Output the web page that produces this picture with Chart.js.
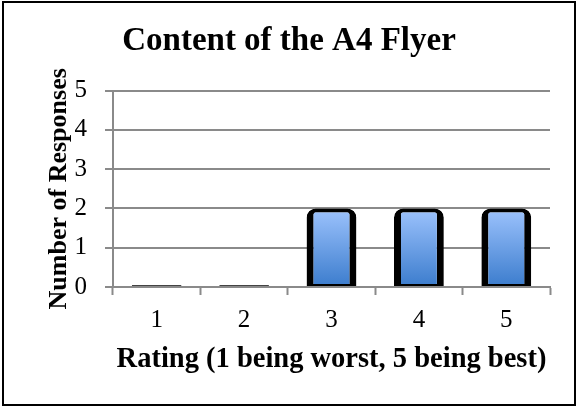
<!DOCTYPE html>
<html>
<head>
<meta charset="utf-8">
<script src="https://cdn.jsdelivr.net/npm/chart.js@4/dist/chart.umd.min.js"></script>
<style>
  html, body { margin: 0; padding: 0; background: #fff; }
  #wrap { position: relative; width: 578px; height: 409px; }
  #frame {
    position: absolute; left: 2px; top: 1px; width: 574px; height: 405px;
    border: 2px solid #000; box-sizing: border-box; pointer-events: none;
  }
</style>
</head>
<body>
<div id="wrap">
  <canvas id="chart" width="578" height="409"></canvas>
  <div id="frame"></div>
</div>
<script>
const categories = ['1', '2', '3', '4', '5'];
const responses = [0, 0, 2, 2, 2];
const yTicks = [0, 1, 2, 3, 4, 5];

const chartTitle = 'Content of the A4 Flyer';
const xTitle = 'Rating (1 being worst, 5 being best)';
const yTitle = 'Number of Responses';

const serif = "'Liberation Serif', 'DejaVu Serif', serif";
const gridGray = '#8a8a8a';

function barFill(c) {
    const chart = c.chart;
    if (!chart.chartArea) return '#6fa0e6';
    const y = chart.scales.y;
    const top = y.getPixelForValue(2);
    const bottom = y.getPixelForValue(0);
    const g = chart.ctx.createLinearGradient(0, top, 0, bottom);
    g.addColorStop(0, '#9dc3fd');
    g.addColorStop(1, '#3b7ccd');
    return g;
}

const ctx = document.getElementById('chart').getContext('2d');
new Chart(ctx, {
    type: 'bar',
    data: {
        labels: categories,
        datasets: [{
            data: responses,
            backgroundColor: barFill,
            borderColor: c => (c.raw === 0 ? '#444' : '#000'),
            borderWidth: { left: 7, right: 7, top: 4, bottom: 2 },
            borderSkipped: false,
            borderRadius: { topLeft: 9, topRight: 9, bottomLeft: 0, bottomRight: 0 },
            minBarLength: 2,
            barPercentage: 0.57,
            categoryPercentage: 1
        }]
    },
    options: {
        responsive: false,
        animation: false,
        devicePixelRatio: 1,
        layout: { padding: { left: 28, right: 28, top: 0, bottom: 0 } },
        plugins: {
            legend: { display: false },
            tooltip: { enabled: false },
            title: {
                display: true,
                text: chartTitle,
                color: '#000',
                font: { family: serif, size: 33, weight: 'bold', lineHeight: 1.2 },
                padding: { top: 22, bottom: 29 }
            }
        },
        scales: {
            x: {
                grid: {
                    drawOnChartArea: false,
                    drawTicks: true,
                    tickLength: 8,
                    tickColor: gridGray,
                    tickWidth: 2,
                    offset: true
                },
                border: { color: gridGray, width: 2 },
                ticks: {
                    color: '#000',
                    padding: 10,
                    font: { family: serif, size: 25 }
                },
                title: {
                    display: true,
                    text: xTitle,
                    color: '#000',
                    font: { family: serif, size: 28.5, weight: 'bold', lineHeight: 1.2 },
                    padding: { top: 0, bottom: 32 }
                },
                afterFit: s => { s.height = 122; }
            },
            y: {
                min: 0,
                max: 5,
                afterBuildTicks: s => { s.ticks = yTicks.map(v => ({ value: v })); },
                grid: {
                    color: gridGray,
                    lineWidth: 2,
                    drawTicks: true,
                    tickLength: 8
                },
                border: { color: gridGray, width: 2 },
                ticks: {
                    color: '#000',
                    padding: 18,
                    font: { family: serif, size: 25 }
                },
                title: {
                    display: true,
                    text: yTitle,
                    color: '#000',
                    font: { family: serif, size: 26, weight: 'bold', lineHeight: 1.2 },
                    padding: { top: 16, bottom: 0 }
                },
                afterFit: s => { s.width = 85; }
            }
        }
    }
});
</script>
</body>
</html>
